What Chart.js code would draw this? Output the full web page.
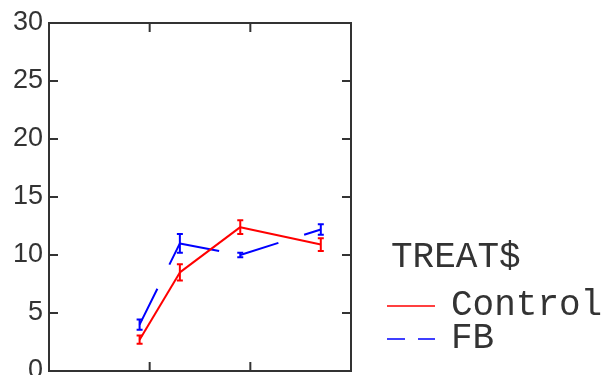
<!DOCTYPE html>
<html>
<head>
<meta charset="utf-8">
<script src="https://cdn.jsdelivr.net/npm/chart.js@4/dist/chart.umd.min.js"></script>
<style>
  html, body { margin: 0; padding: 0; background: #fff; }
  #wrap { width: 609px; height: 375px; overflow: hidden; position: relative; }
  #wrap canvas { display: block; }
</style>
</head>
<body>
<div id="wrap"><canvas id="c" width="609" height="400"></canvas></div>
<script>
// ---- data ----
const legendTitle = "TREAT$";
const seriesNames = ["Control", "FB"];
const xValues = [0.9, 1.3, 1.9, 2.7];
const controlMeans = [2.7, 8.5, 12.4, 10.9];
const controlErrors = [0.35, 0.7, 0.6, 0.55];
const fbMeans = [4.0, 11.0, 10.0, 12.2];
const fbErrors = [0.45, 0.8, 0.2, 0.45];
const yTicks = [0, 5, 10, 15, 20, 25, 30];
const xTicks = [1, 2];

const seriesColors = ["#ff0000", "#0000ff"];
const seriesDash = [[], [40, 27]];

function toPoints(xs, ys) { return xs.map((x, i) => ({ x: x, y: ys[i] })); }

const errorSets = [controlErrors, fbErrors];

const frameAndTicks = {
  id: 'frameAndTicks',
  afterDraw(chart) {
    const { ctx, chartArea: a, scales } = chart;
    ctx.save();
    ctx.strokeStyle = '#333';
    ctx.lineWidth = 2;
    ctx.strokeRect(a.left, a.top, a.right - a.left, a.bottom - a.top);
    ctx.lineWidth = 2;
    // inward ticks on the x axis (bottom & top)
    xTicks.forEach(v => {
      const px = scales.x.getPixelForValue(v);
      ctx.beginPath();
      ctx.moveTo(px, a.bottom); ctx.lineTo(px, a.bottom - 9);
      ctx.moveTo(px, a.top); ctx.lineTo(px, a.top + 9);
      ctx.stroke();
    });
    // inward ticks on the y axis (left & right)
    yTicks.forEach(v => {
      if (v === yTicks[0] || v === yTicks[yTicks.length - 1]) return;
      const py = scales.y.getPixelForValue(v);
      ctx.beginPath();
      ctx.moveTo(a.left, py); ctx.lineTo(a.left + 9, py);
      ctx.moveTo(a.right, py); ctx.lineTo(a.right - 9, py);
      ctx.stroke();
    });
    ctx.restore();
  }
};

const errorBars = {
  id: 'errorBars',
  afterDatasetsDraw(chart) {
    const { ctx, scales } = chart;
    ctx.save();
    chart.data.datasets.forEach((ds, di) => {
      const errs = errorSets[di];
      ctx.strokeStyle = ds.borderColor;
      ctx.lineWidth = 2;
      ctx.setLineDash([]);
      ds.data.forEach((p, i) => {
        const px = scales.x.getPixelForValue(p.x);
        const top = scales.y.getPixelForValue(p.y + errs[i]);
        const bot = scales.y.getPixelForValue(p.y - errs[i]);
        ctx.beginPath();
        ctx.moveTo(px, top); ctx.lineTo(px, bot);
        ctx.moveTo(px - 3, top); ctx.lineTo(px + 3, top);
        ctx.moveTo(px - 3, bot); ctx.lineTo(px + 3, bot);
        ctx.stroke();
      });
    });
    ctx.restore();
  }
};

const customLegend = {
  id: 'customLegend',
  afterDraw(chart) {
    const { ctx } = chart;
    ctx.save();
    ctx.font = '36px "Liberation Mono", "DejaVu Sans Mono", monospace';
    ctx.fillStyle = '#333';
    ctx.textBaseline = 'middle';
    ctx.textAlign = 'left';
    ctx.fillText(legendTitle, 391, 257);
    const rows = [306, 339];
    chart.data.datasets.forEach((ds, i) => {
      const y = rows[i];
      ctx.strokeStyle = ds.borderColor;
      ctx.lineWidth = 1.3;
      ctx.setLineDash(i === 0 ? [] : [18, 13]);
      ctx.beginPath();
      ctx.moveTo(387, y); ctx.lineTo(435, y);
      ctx.stroke();
      ctx.setLineDash([]);
      ctx.fillText(ds.label, 451, y - 1);
    });
    ctx.restore();
  }
};

new Chart(document.getElementById('c'), {
  type: 'line',
  data: {
    datasets: [
      {
        label: seriesNames[0],
        data: toPoints(xValues, controlMeans),
        borderColor: seriesColors[0],
        backgroundColor: seriesColors[0],
        borderWidth: 2,
        borderDash: seriesDash[0],
        pointRadius: 0,
        tension: 0,
        segment: { borderDashOffset: c => (c.p0DataIndex % 2 ? 0.001 : 0) }
      },
      {
        label: seriesNames[1],
        data: toPoints(xValues, fbMeans),
        borderColor: seriesColors[1],
        backgroundColor: seriesColors[1],
        borderWidth: 2,
        borderDash: seriesDash[1],
        pointRadius: 0,
        tension: 0,
        segment: { borderDashOffset: c => (c.p0DataIndex % 2 ? 0.001 : 0) }
      }
    ]
  },
  options: {
    responsive: false,
    animation: false,
    layout: { padding: { top: 23, bottom: 29, left: 0, right: 258 } },
    plugins: { legend: { display: false }, tooltip: { enabled: false } },
    scales: {
      x: {
        type: 'linear',
        min: 0, max: 3,
        display: false
      },
      y: {
        type: 'linear',
        min: 0, max: 30,
        afterFit(scale) { scale.width = 49; },
        afterBuildTicks(scale) { scale.ticks = yTicks.map(v => ({ value: v })); },
        grid: { display: false, drawTicks: false },
        border: { display: false },
        ticks: {
          autoSkip: false,
          padding: 6,
          color: '#333',
          font: { family: '"Liberation Sans", Arial, sans-serif', size: 27 }
        }
      }
    }
  },
  plugins: [errorBars, frameAndTicks, customLegend]
});
</script>
</body>
</html>
